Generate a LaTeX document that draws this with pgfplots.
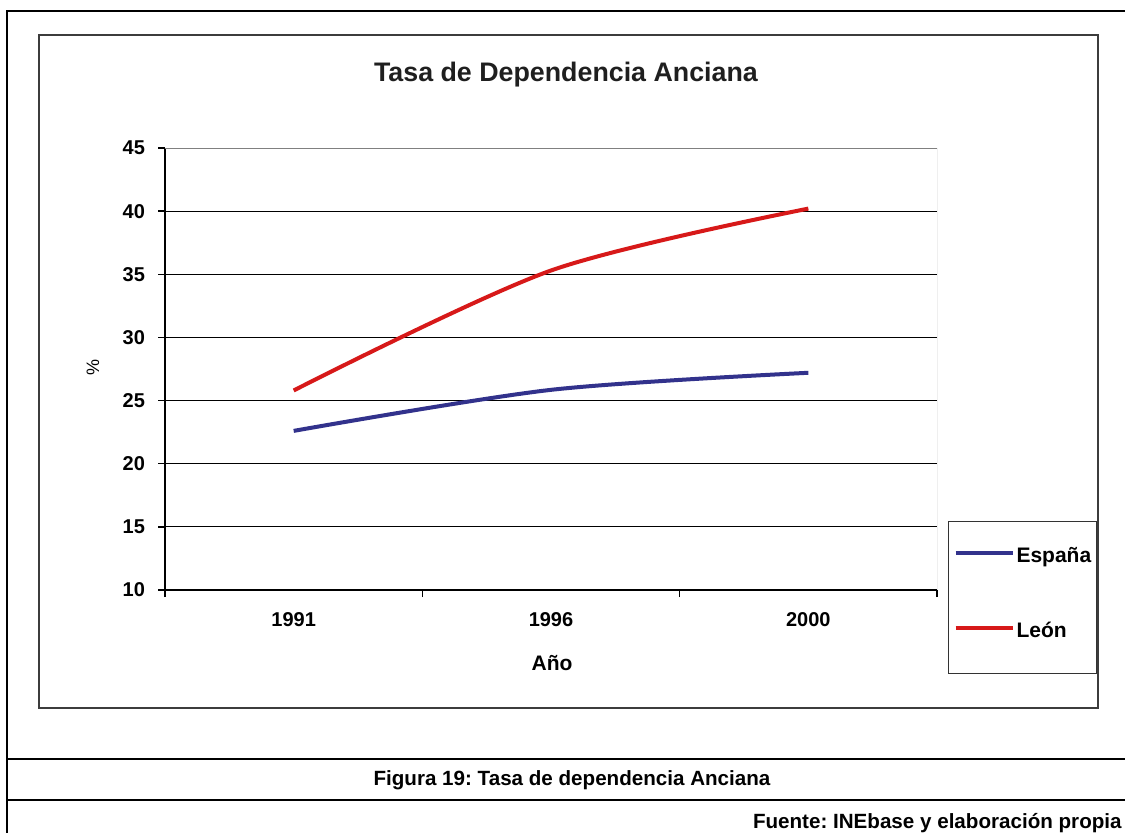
\documentclass[border=0pt]{standalone}
\usepackage{fontspec}
\setmainfont{Liberation Sans}
\usepackage{pgfplots}
\pgfplotsset{compat=1.18}
\definecolor{esp}{RGB}{50,50,140}
\definecolor{leon}{RGB}{215,25,25}
\definecolor{framec}{RGB}{60,60,60}
\frenchspacing
\begin{document}
\begin{tikzpicture}
\useasboundingbox (0,0) rectangle (562.5pt,416pt);
\begin{scope}[x=0.5pt,y=-0.5pt,yshift=416pt]
 \draw[black, line width=0.75pt] (7,840) -- (7,11) -- (1130,11);
 \draw[framec, line width=1.2pt] (39,35) rectangle (1098,708);
 \draw[black, line width=0.75pt] (7,759) -- (1130,759);
 \draw[black, line width=0.75pt] (7,800) -- (1130,800);
 \node[font=\bfseries\fontsize{10.3}{12}\selectfont] at (572,780) {Figura 19: Tasa de dependencia Anciana};
 \node[anchor=base east, font=\bfseries\fontsize{10.3}{12}\selectfont, inner sep=0pt] at (1122,828) {Fuente: INEbase y elaboración propia};
\end{scope}
\begin{axis}[
 at={(82.5pt,121pt)}, anchor=south west,
 scale only axis, width=386pt, height=221pt,
 xmin=-0.5, xmax=2.5, ymin=10, ymax=45,
 xtick={0,1,2}, xticklabels={1991,1996,2000},
 minor xtick={-0.5,0.5,1.5,2.5},
 ytick={10,15,...,45},
 axis x line*=bottom, axis y line*=left,
 axis line style={line width=0.75pt, -},
 tick align=outside,
 major tick length=3.5pt, minor tick length=3.5pt,
 major x tick style={draw=none},
 minor x tick style={black, line width=0.75pt},
 ytick style={black, line width=0.75pt},
 ymajorgrids, major grid style={black, line width=0.5pt},
 ticklabel style={font=\bfseries\fontsize{10}{12}\selectfont},
 yticklabel style={xshift=-3pt},
 xticklabel style={yshift=-4pt},
 /pgf/number format/assume math mode=true,
 title={Tasa de Dependencia Anciana},
 title style={at={(axis description cs:0.5194,1.140)}, anchor=center, font=\bfseries\fontsize{13.4}{16}\selectfont, text=black!88},
 xlabel={Año},
 xlabel style={at={(axis description cs:0.5013,-0.165)}, anchor=center, font=\bfseries\fontsize{10.5}{12}\selectfont},
 ylabel={\%},
 ylabel style={at={(axis description cs:-0.0933,0.5045)}, anchor=center, font=\fontsize{9}{11}\selectfont},
 legend style={at={(1.01425,0.1561)}, anchor=north west, draw=black!80, line width=0.5pt,
   inner xsep=2.5pt, inner ysep=9pt, row sep=17pt,
   nodes={inner sep=0pt, text height=11.5pt, text depth=9pt, font=\bfseries\fontsize{10.5}{12}\selectfont},
   /tikz/every odd column/.append style={column sep=1pt}},
 legend cell align=left,
 legend image code/.code={\draw[#1, line width=2pt] (0pt,3.7pt) -- (28.5pt,3.7pt);},
]
\addplot[esp, line width=2pt, smooth] coordinates {(0,22.6) (1,25.85) (2,27.2)};
\addlegendentry{España\hspace{1.2pt}}
\addplot[leon, line width=2pt, smooth] coordinates {(0,25.8) (1,35.3) (2,40.2)};
\addlegendentry{León}
\draw[gray, line width=0.5pt] (rel axis cs:0,1) -- (rel axis cs:1,1) -- (rel axis cs:1,0);
\end{axis}
\end{tikzpicture}
\end{document}
